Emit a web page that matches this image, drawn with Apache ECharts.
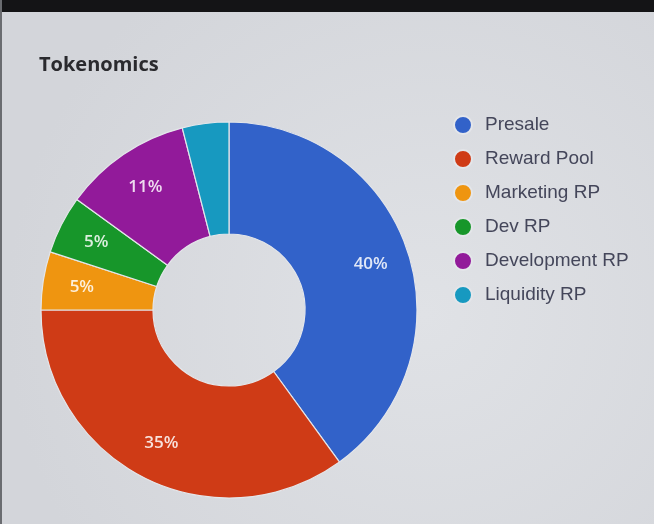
<!DOCTYPE html>
<html>
<head>
<meta charset="utf-8">
<script src="https://cdn.jsdelivr.net/npm/echarts@6/dist/echarts.min.js"></script>
<style>
html,body{margin:0;padding:0;background:#d8dadf;}
#chart{width:654px;height:524px;}
</style>
</head>
<body>
<div id="chart"></div>
<script>
const categories = ['Presale', 'Reward Pool', 'Marketing RP', 'Dev RP', 'Development RP', 'Liquidity RP'];
const values = [40, 35, 5, 5, 11, 4];
const colors = ['#3262c9', '#cf3b16', '#ef9510', '#17962a', '#921a9a', '#1799c0'];
const hiddenLabels = ['Liquidity RP'];

const chart = echarts.init(document.getElementById('chart'));
const baseData = categories.map((c, i) => ({ name: c, value: values[i], itemStyle: { color: colors[i] } }));
const labelData = categories.map((c, i) => ({
  name: c, value: values[i],
  label: { show: hiddenLabels.indexOf(c) < 0 }
}));

chart.setOption({
  backgroundColor: {
    type: 'radial', x: 0.65, y: 0.6, r: 0.8,
    colorStops: [{ offset: 0, color: '#e0e2e6' }, { offset: 1, color: '#d3d5da' }]
  },
  graphic: [
    { type: 'rect', left: 0, top: 0, shape: { width: 654, height: 12 }, style: { fill: '#141416' }, z: 10 },
    { type: 'rect', left: 0, top: 0, shape: { width: 2, height: 524 }, style: { fill: '#6a6c70' }, z: 10 }
  ],
  title: {
    text: 'Tokenomics', left: 34, top: 50,
    textStyle: { fontFamily: 'Open Sans', fontWeight: 'bold', fontSize: 20, color: '#2a2a2e' }
  },
  legend: {
    orient: 'vertical', left: 448, top: 110,
    icon: 'circle', itemWidth: 18, itemHeight: 18, itemGap: 14,
    data: categories,
    textStyle: { fontFamily: 'Liberation Sans', fontSize: 19, lineHeight: 20, color: '#44465a', padding: [0, 0, 0, 8] }
  },
  series: [
    {
      type: 'pie', center: [229, 310], radius: [76, 188],
      startAngle: 90, clockwise: true, avoidLabelOverlap: false,
      data: baseData,
      label: { show: false }, labelLine: { show: false },
      itemStyle: { borderColor: '#e4e6ea', borderWidth: 1.2 },
      emphasis: { disabled: true }, silent: true
    },
    {
      type: 'pie', center: [229, 310], radius: [104, 188],
      startAngle: 90, clockwise: true, avoidLabelOverlap: false,
      data: labelData,
      itemStyle: { color: 'rgba(0,0,0,0)' },
      label: {
        position: 'inside', formatter: '{c}%',
        fontFamily: 'Open Sans', fontWeight: 600, fontSize: 17, color: 'rgba(255,255,255,0.85)'
      },
      labelLine: { show: false },
      emphasis: { disabled: true }, silent: true, z: 5
    }
  ]
});
</script>
</body>
</html>
